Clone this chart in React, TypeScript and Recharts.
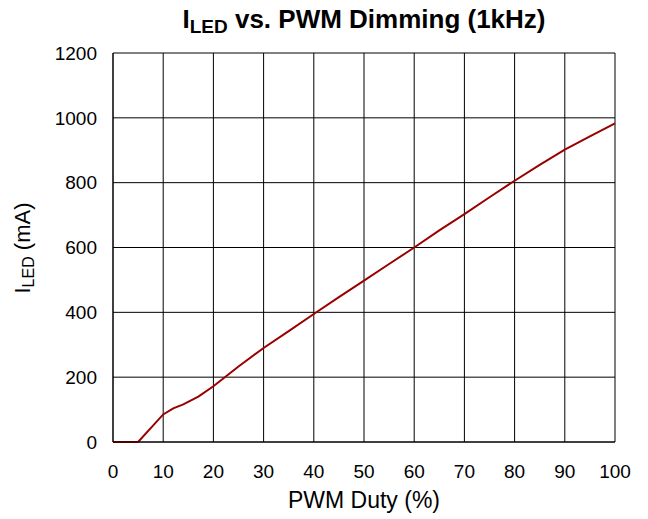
import { LineChart, Line, XAxis, YAxis, CartesianGrid } from 'recharts';

// PWM duty cycle (%) and LED current (mA)
const duty = [0, 5, 10, 12, 14, 17, 20, 25, 30, 35, 40, 45, 50, 55, 60, 65, 70, 75, 80, 85, 90, 95, 100];
const iLed = [0, 0, 85, 104, 116, 140, 172, 233, 290, 342, 395, 447, 498, 549, 600, 653, 703, 755, 806, 855, 902, 943, 983];

const xTicks = [0, 10, 20, 30, 40, 50, 60, 70, 80, 90, 100];
const yTicks = [0, 200, 400, 600, 800, 1000, 1200];

const data = duty.map((d, i) => ({ duty: d, iled: iLed[i] }));

const font = '"Liberation Sans", Arial, sans-serif';

export default function App() {
  return (
    <div style={{ position: 'absolute', left: 0, top: 0, width: 648, height: 519, background: '#fff', fontFamily: font }}>
      <div
        style={{
          position: 'absolute',
          left: 113,
          width: 502,
          top: 2,
          textAlign: 'center',
          fontWeight: 'bold',
          fontSize: 26,
          lineHeight: '34px',
          color: '#000',
        }}
      >
        I<sub style={{ fontSize: 19, verticalAlign: '-0.25em' }}>LED</sub> vs. PWM Dimming (1kHz)
      </div>
      <div
        style={{
          position: 'absolute',
          left: 26,
          top: 248,
          transform: 'translate(-50%, -50%) rotate(-90deg)',
          whiteSpace: 'nowrap',
          fontSize: 22,
          lineHeight: '26px',
          color: '#000',
        }}
      >
        I<sub style={{ fontSize: 16, verticalAlign: '-0.25em' }}>LED</sub> (mA)
      </div>
      <div
        style={{
          position: 'absolute',
          left: 113,
          width: 502,
          top: 486,
          textAlign: 'center',
          fontSize: 23,
          lineHeight: '28px',
          color: '#000',
        }}
      >
        PWM Duty (%)
      </div>
      <LineChart
        width={648}
        height={519}
        data={data}
        margin={{ top: 53, right: 33, bottom: 0, left: 0 }}
        style={{ position: 'absolute', left: 0, top: 0 }}
      >
        <CartesianGrid stroke="#000" strokeWidth={1} horizontalValues={yTicks} verticalValues={xTicks} />
        <XAxis
          dataKey="duty"
          type="number"
          domain={[0, 100]}
          ticks={xTicks}
          interval={0}
          axisLine={{ stroke: '#000' }}
          tickLine={false}
          tick={{ fill: '#000', fontSize: 19, fontFamily: font }}
          tickMargin={17}
          height={77}
        />
        <YAxis
          type="number"
          domain={[0, 1200]}
          ticks={yTicks}
          interval={0}
          axisLine={{ stroke: '#000' }}
          tickLine={false}
          tick={{ fill: '#000', fontSize: 19, fontFamily: font }}
          tickMargin={10}
          width={113}
        />
        <Line
          type="linear"
          dataKey="iled"
          stroke="#990000"
          strokeWidth={2}
          dot={false}
          isAnimationActive={false}
        />
      </LineChart>
    </div>
  );
}
